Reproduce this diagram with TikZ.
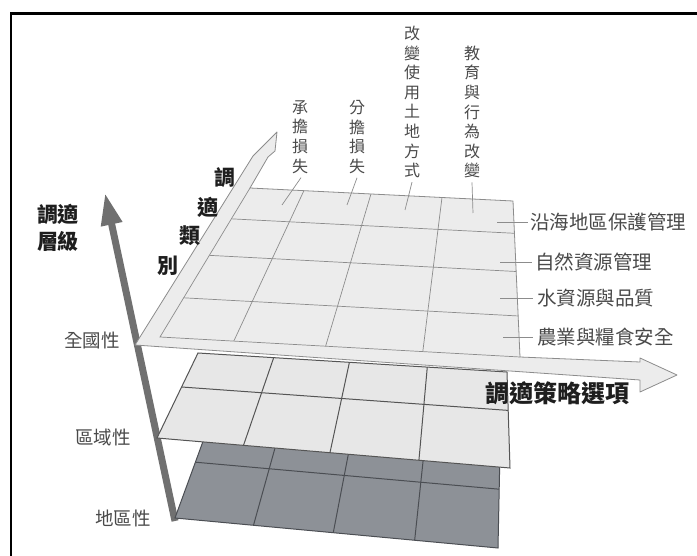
\documentclass[tikz,border=0pt]{standalone}
\usepackage{fontspec}
\newfontfamily\cjk{Noto Sans CJK TC}
\usetikzlibrary{arrows.meta,calc}
\definecolor{labgray}{HTML}{4A4A4A}
\definecolor{darklab}{HTML}{1E1E1E}
\definecolor{axisgray}{HTML}{707070}
\definecolor{topfill}{HTML}{ECECEC}
\definecolor{topedge}{HTML}{8C8C8C}
\definecolor{midfill}{HTML}{E7E7E7}
\definecolor{midedge}{HTML}{555555}
\definecolor{botfill}{HTML}{8D9197}
\definecolor{botedge}{HTML}{4B4E53}
\begin{document}
\begin{tikzpicture}[x=1pt,y=-1pt,
  toplab/.style={font=\cjk\fontsize{16}{19.6}\selectfont, text=labgray, align=center, inner sep=0pt},
  rightlab/.style={font=\cjk\fontsize{19.5}{22}\selectfont, text=labgray, anchor=west, inner sep=0pt},
  levellab/.style={font=\cjk\fontsize{18.5}{22}\selectfont, text=labgray, inner sep=0pt},
  boldlab/.style={font=\cjk\bfseries\fontsize{21}{27}\selectfont, text=darklab, align=center, inner sep=0pt},
  leader/.style={draw=topedge, line width=0.7pt},
  topsheet/.style={fill=topfill, draw=topedge, line width=0.8pt, line join=round},
  topline/.style={draw=topedge, line width=0.7pt},
  midsheet/.style={fill=midfill, draw=midedge, line width=1pt},
  midline/.style={draw=midedge, line width=1pt},
  botsheet/.style={fill=botfill, draw=botedge, line width=1pt},
  botline/.style={draw=botedge, line width=1pt},
  axisline/.style={draw=axisgray, line width=7pt, -{Triangle[length=32pt,width=20pt]}}
]
\useasboundingbox (0,0) rectangle (697,556);
\fill[white] (0,0) rectangle (697,556);
% frame
\draw[black, line width=2.8pt] (11,560) -- (11,13.5) -- (700,13.5);

% vertical axis
\coordinate (axbot) at (175,521);
\coordinate (axtop) at (105,193);
\draw[axisline] (axbot) -- (axtop);

% bottom sheet
\coordinate (B1) at (209,425);
\coordinate (B2) at (500,450);
\coordinate (B3) at (498,548);
\coordinate (B4) at (175,518);
\draw[botsheet] (B1) -- (B2) -- (B3) -- (B4) -- cycle;
\draw[botline] ($(B1)!0.4!(B4)$) -- ($(B2)!0.4!(B3)$);
\foreach \t in {0.243,0.49,0.742}
  \draw[botline] ($(B1)!\t!(B2)$) -- ($(B4)!\t!(B3)$);

% middle sheet
\coordinate (M1) at (198,353);
\coordinate (M2) at (507,372);
\coordinate (M3) at (510,468);
\coordinate (M4) at (157,438);
\draw[midsheet] (M1) -- (M2) -- (M3) -- (M4) -- cycle;
\draw[midline] ($(M1)!0.4!(M4)$) -- ($(M2)!0.4!(M3)$);
\foreach \t in {0.245,0.49,0.742}
  \draw[midline] ($(M1)!\t!(M2)$) -- ($(M4)!\t!(M3)$);

% top sheet with arrows
\coordinate (L) at (135,345);
\coordinate (AL) at (253,156);
\coordinate (AT) at (277,132);
\coordinate (AR) at (275,151);
\coordinate (AN) at (268,157);
\coordinate (G1) at (250,188);
\coordinate (G2) at (513,201);
\coordinate (G3) at (520,357);
\coordinate (G4) at (160,337);
\coordinate (H1) at (640,362);
\coordinate (H2) at (640,358);
\coordinate (HT) at (677,375);
\coordinate (H3) at (640,392);
\coordinate (H4) at (640,380);
\draw[topsheet] (L) -- (AL) -- (AT) -- (AR) -- (AN) -- (G1) -- (G2) -- (G3)
  -- (H1) -- (H2) -- (HT) -- (H3) -- (H4) -- cycle;
\draw[topline] (G1) -- (G4) -- (G3);
\foreach \t in {0.207,0.452,0.737}
  \draw[topline] ($(G1)!\t!(G4)$) -- ($(G2)!\t!(G3)$);
\foreach \t in {0.205,0.46,0.73}
  \draw[topline] ($(G1)!\t!(G2)$) -- ($(G4)!\t!(G3)$);

% top labels (vertical)
\node[toplab] (t1) at (300,137) {承\\擔\\損\\失};
\node[toplab] (t2) at (357,137) {分\\擔\\損\\失};
\node[toplab] (t3) at (412,102) {改\\變\\使\\用\\土\\地\\方\\式};
\node[toplab] (t4) at (472,112) {教\\育\\與\\行\\為\\改\\變};
\coordinate (c1) at (282,205);
\coordinate (c2) at (347,205);
\coordinate (c3) at (405,210);
\coordinate (c4) at (473,213);
\draw[leader] ([xshift=1pt,yshift=-4pt]t1.south) -- (c1);
\draw[leader] ([yshift=-4pt]t2.south) -- (c2);
\draw[leader] ([yshift=-4pt]t3.south) -- (c3);
\draw[leader] ([yshift=-4pt]t4.south) -- (c4);

% right labels
\node[rightlab] (r1) at (530,222) {沿海地區保護管理};
\node[rightlab] (r2) at (535,262) {自然資源管理};
\node[rightlab] (r3) at (537,298) {水資源與品質};
\node[rightlab] (r4) at (537,337) {農業與糧食安全};
\coordinate (d1) at (497,222);
\coordinate (d2) at (500,262);
\coordinate (d3) at (500,298);
\coordinate (d4) at (503,337);
\draw[leader] (d1) -- ([xshift=-2pt]r1.west);
\draw[leader] (d2) -- ([xshift=-3pt]r2.west);
\draw[leader] (d3) -- ([xshift=-4pt]r3.west);
\draw[leader] (d4) -- ([xshift=-4pt]r4.west);

% level labels
\node[boldlab] (lev) at (58,228) {調適\\層級};
\node[levellab] (n1) at (92,340) {全國性};
\node[levellab] (n2) at (103,437) {區域性};
\node[levellab] (n3) at (123,518) {地區性};

% category axis label (staircase)
\node[boldlab] (k1) at (225,178) {調};
\node[boldlab] (k2) at (208,207) {適};
\node[boldlab] (k3) at (190,236) {類};
\node[boldlab] (k4) at (168,266) {別};

% strategy axis label
\node[boldlab, font=\cjk\bfseries\fontsize{24}{28}\selectfont] (s1) at (557,393) {調適策略選項};
\end{tikzpicture}
\end{document}
